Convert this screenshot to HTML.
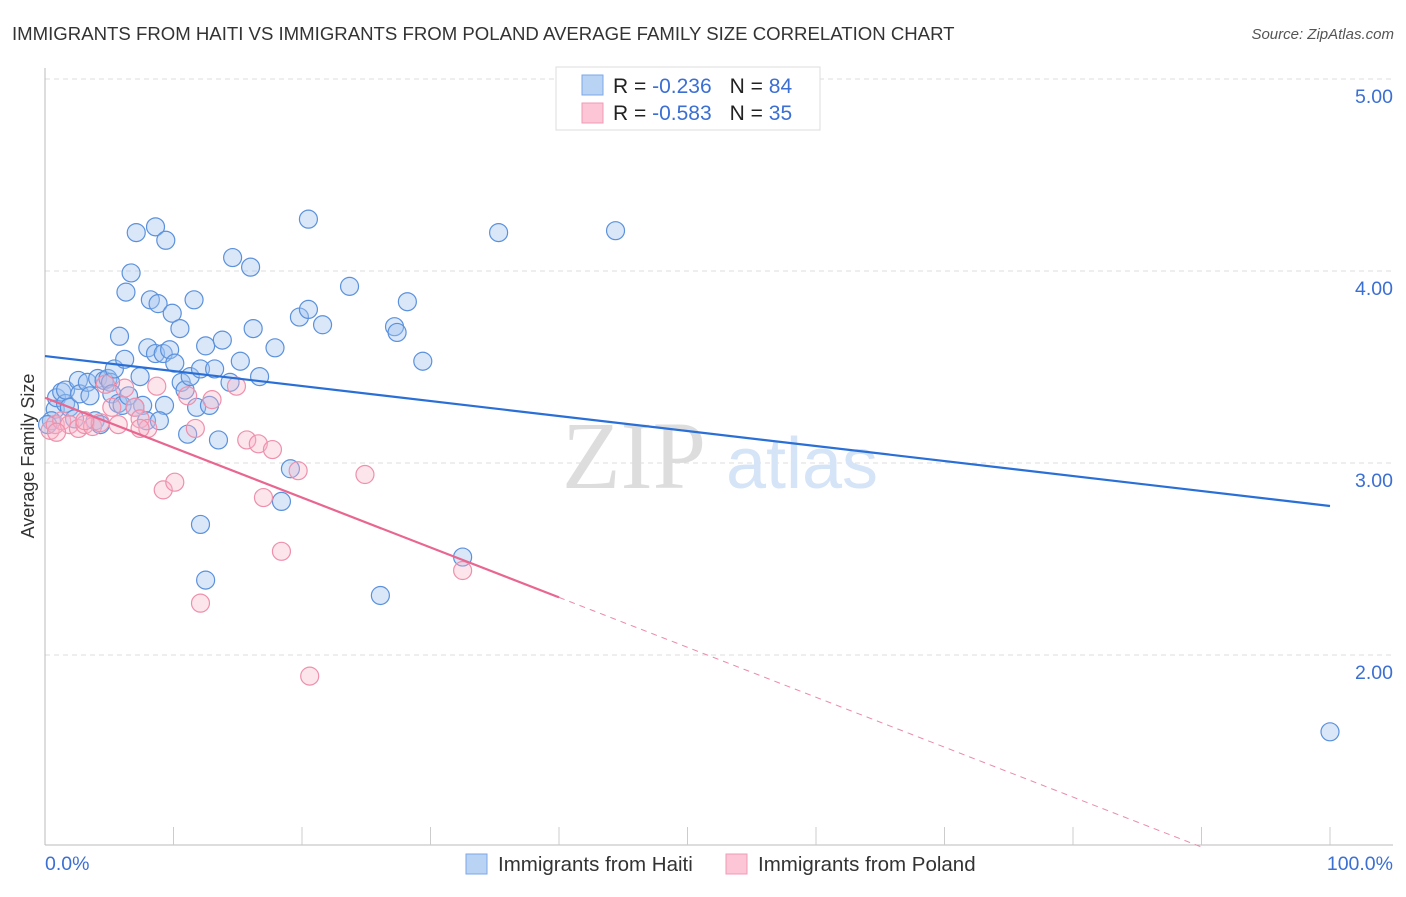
<!DOCTYPE html>
<html><head><meta charset="utf-8"><style>
body{margin:0;background:#fff;font-family:"Liberation Sans",sans-serif;}
svg text{font-family:"Liberation Sans",sans-serif;}
</style></head><body>
<svg width="1406" height="892">
<script>
const haitiX=[0.8,0.5,0.9,1.3,1.6,1.9,1.6,2.6,2.7,2.3,3.3,3.5,3.9,4.1,4.6,4.9,5.1,5.2,5.4,5.7,6.0,6.2,6.5,5.8,6.3,6.7,7.1,8.6,9.4,7.4,7.6,7.9,8.0,8.2,8.6,8.8,9.2,9.3,9.7,9.9,10.1,10.5,10.6,10.9,11.1,11.3,11.6,11.8,12.1,12.5,12.8,13.2,13.5,13.8,14.4,14.6,15.2,16.0,16.2,16.7,17.9,19.1,19.8,20.5,20.5,21.6,23.7,27.2,27.4,28.2,29.4,35.3,44.4,12.1,12.5,18.4,26.1,32.5,100,4.3,7.0,8.9,0.2];
const haitiY=[3.28,3.22,3.34,3.37,3.31,3.29,3.38,3.43,3.36,3.23,3.42,3.35,3.22,3.44,3.43,3.44,3.42,3.36,3.49,3.31,3.30,3.54,3.35,3.66,3.89,3.99,4.20,4.23,4.16,3.45,3.30,3.22,3.60,3.85,3.57,3.83,3.57,3.30,3.59,3.78,3.52,3.70,3.42,3.38,3.15,3.45,3.85,3.29,3.49,3.61,3.30,3.49,3.12,3.64,3.42,4.07,3.53,4.02,3.70,3.45,3.60,2.97,3.76,3.80,4.27,3.72,3.92,3.71,3.68,3.84,3.53,4.20,4.21,2.68,2.39,2.80,2.31,2.51,1.60,3.20,3.29,3.22,3.20];
const polandX=[0.4,0.8,1.3,1.9,2.6,3.1,3.7,4.3,4.7,5.2,5.7,6.2,7.0,7.4,8.0,8.7,9.2,10.1,11.1,11.7,12.1,13.0,14.9,15.7,16.6,17.0,17.7,18.4,19.7,20.6,24.9,32.5,7.4,3.1,0.9];
const polandY=[3.17,3.20,3.22,3.20,3.18,3.20,3.19,3.21,3.41,3.29,3.20,3.39,3.29,3.23,3.18,3.40,2.86,2.90,3.35,3.18,2.27,3.33,3.40,3.12,3.10,2.82,3.07,2.54,2.96,1.89,2.94,2.44,3.18,3.22,3.16];
const haitiFit=[3.557,-0.00781];
const polandFit=[3.34,-0.026];
const yTicks=[2,3,4,5];
const yTickLabels=["2.00","3.00","4.00","5.00"];
</script>
<g id="grid"></g>
<text x="634" y="488" font-size="96" fill="#ddd" text-anchor="middle" style="font-family:'Liberation Serif',serif">ZIP</text>
<text x="802" y="488" font-size="72" fill="#d6e4f7" text-anchor="middle">atlas</text>
<g id="marks"></g>
<text x="12" y="40" font-size="18.6" fill="#333">IMMIGRANTS FROM HAITI VS IMMIGRANTS FROM POLAND AVERAGE FAMILY SIZE CORRELATION CHART</text>
<text x="1394" y="39" font-size="15" fill="#555" font-style="italic" text-anchor="end">Source: ZipAtlas.com</text>
<text transform="translate(34,456) rotate(-90)" font-size="18" fill="#333" text-anchor="middle">Average Family Size</text>
<text x="45" y="870" font-size="19.5" fill="#3b6fd4">0.0%</text>
<text x="1393" y="870" font-size="19.5" fill="#3b6fd4" text-anchor="end">100.0%</text>
<g>
<rect x="556" y="67" width="264" height="63" fill="#fff" stroke="#ddd"/>
<rect x="582" y="75" width="21" height="20" fill="#b9d3f5" stroke="#7aa7e8"/>
<rect x="582" y="103" width="21" height="20" fill="#fcc6d6" stroke="#f09ab4"/>
<text x="613" y="93" font-size="21" fill="#222">R = <tspan fill="#3b6fd4">-0.236</tspan><tspan dx="18">N = </tspan><tspan fill="#3b6fd4">84</tspan></text>
<text x="613" y="120" font-size="21" fill="#222">R = <tspan fill="#3b6fd4">-0.583</tspan><tspan dx="18">N = </tspan><tspan fill="#3b6fd4">35</tspan></text>
</g>
<g>
<rect x="466" y="854" width="21" height="20" fill="#b9d3f5" stroke="#7aa7e8"/>
<text x="498" y="871" font-size="20.5" fill="#333">Immigrants from Haiti</text>
<rect x="726" y="854" width="21" height="20" fill="#fcc6d6" stroke="#f09ab4"/>
<text x="758" y="871" font-size="20.5" fill="#333">Immigrants from Poland</text>
</g>
<script>
const NS="http://www.w3.org/2000/svg";
const X0=45,X1=1330,YB=847,PU=192;
const xs=v=>X0+(X1-X0)*v/100;
const ys=v=>YB-(v-1)*PU;
function mk(t,a,p){const e=document.createElementNS(NS,t);for(const k in a)e.setAttribute(k,a[k]);p.appendChild(e);return e;}
const grid=document.getElementById('grid');
yTicks.forEach((t,i)=>{
 const l=mk('line',{x1:45,x2:1393,y1:ys(t),y2:ys(t),stroke:'#ddd','stroke-dasharray':'5,4'},grid);
 
 
 const tx=mk('text',{x:1393,y:ys(t)+24,'font-size':19.5,fill:'#3b6fd4','text-anchor':'end'},grid);
 tx.textContent=yTickLabels[i];
 
 
});
const ax=mk('line',{x1:45,x2:1393,y1:845,y2:845,stroke:'#bbb'},grid);


const ay=mk('line',{x1:45,x2:45,y1:68,y2:845,stroke:'#bbb'},grid);


for(let i=1;i<=10;i++){const t=mk('line',{x1:xs(i*10),x2:xs(i*10),y1:827,y2:845,stroke:'#ccc'},grid);
 
 }
const m=document.getElementById('marks');
haitiX.forEach((x,i)=>{const c=mk('circle',{cx:xs(x),cy:ys(haitiY[i]),r:9,fill:'rgba(160,196,240,0.4)',stroke:'#5b91dc','stroke-width':1.2},m);
 
 });
polandX.forEach((x,i)=>{const c=mk('circle',{cx:xs(x),cy:ys(polandY[i]),r:9,fill:'rgba(250,180,200,0.35)',stroke:'#ee90ac','stroke-width':1.2},m);
 
 });
const f=(fit,x)=>fit[0]+fit[1]*x;
const bl=mk('line',{x1:xs(0),y1:ys(f(haitiFit,0)),x2:xs(100),y2:ys(f(haitiFit,100)),stroke:'#2a6fd6','stroke-width':2.2},m);


const pl=mk('line',{x1:xs(0),y1:ys(f(polandFit,0)),x2:xs(40),y2:ys(f(polandFit,40)),stroke:'#e8668f','stroke-width':2.2},m);


const xe=(polandFit[0]-1)/-polandFit[1];
const pd=mk('line',{x1:xs(40),y1:ys(f(polandFit,40)),x2:xs(xe),y2:ys(1),stroke:'#eb8aa8','stroke-width':1,'stroke-dasharray':'6,5'},m);


</script>
</svg>
</body></html>
